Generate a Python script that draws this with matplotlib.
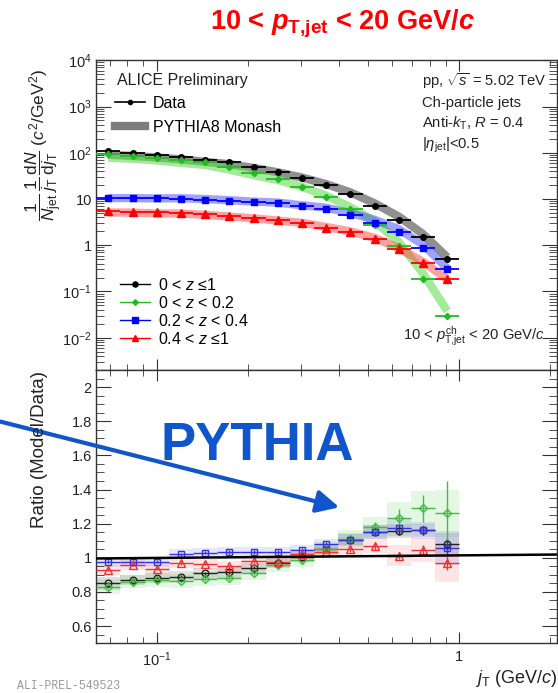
import numpy as np
import matplotlib
matplotlib.use('Agg')
import matplotlib.pyplot as plt
from matplotlib.lines import Line2D
from matplotlib.ticker import LogLocator, MultipleLocator, NullFormatter, FuncFormatter

plt.rcParams['font.family'] = ['Liberation Sans', 'DejaVu Sans']
plt.rcParams['mathtext.fontset'] = 'custom'
plt.rcParams['mathtext.rm'] = 'Liberation Sans'
plt.rcParams['mathtext.it'] = 'Liberation Sans:italic'
plt.rcParams['mathtext.bf'] = 'Liberation Sans:bold'
plt.rcParams['mathtext.bfit'] = 'Liberation Sans:italic:bold'

# jT bin edges (GeV/c)
edges = np.array([0.0631, 0.0759, 0.0912, 0.1096, 0.1318, 0.1585, 0.1905, 0.2291,
                  0.2754, 0.3311, 0.3981, 0.4786, 0.5754, 0.6918, 0.8318, 1.0])

labels = ['0 < $z$ \u22641', '0 < $z$ < 0.2', '0.2 < $z$ < 0.4', '0.4 < $z$ \u22641']

# distributions (data)
d_all = [107, 98, 90, 81, 70, 62, 50, 39, 29, 20, 12.6, 7.0, 3.6, 1.5, 0.51]
d_z02 = [95, 86, 79, 70, 62, 49, 36, 27, 18.6, 11.2, 6.0, 2.8, 0.95, 0.19, 0.030]
d_z04 = [10.7, 10.7, 10.5, 10.2, 9.7, 9.1, 8.5, 8.1, 7.0, 6.0, 4.5, 3.1, 1.9, 0.89, 0.30]
d_z1 = [5.5, 5.3, 5.2, 5.0, 4.7, 4.4, 3.9, 3.5, 3.0, 2.4, 1.9, 1.35, 0.85, 0.42, 0.19]

# ratio PYTHIA / data
r_all = [0.85, 0.87, 0.88, 0.89, 0.908, 0.914, 0.94, 0.97, 1.006, 1.05, 1.107, 1.15, 1.156, 1.16, 1.078]
r_z02 = [0.83, 0.86, 0.867, 0.865, 0.877, 0.883, 0.912, 0.955, 0.986, 1.054, 1.11, 1.18, 1.234, 1.29, 1.26]
r_z04 = [0.977, 0.977, 0.977, 1.02, 1.03, 1.035, 1.033, 1.033, 1.045, 1.08, 1.107, 1.15, 1.175, 1.16, 1.056]
r_z1 = [0.93, 0.96, 0.937, 0.97, 0.965, 0.95, 0.98, 0.975, 1.02, 1.035, 1.05, 1.068, 1.013, 1.045, 0.97]

# ratio stat / syst uncertainties
st_all = [0.01, 0.01, 0.01, 0.01, 0.01, 0.01, 0.01, 0.01, 0.01, 0.01, 0.012, 0.015, 0.02, 0.025, 0.04]
st_z02 = [0.015, 0.015, 0.015, 0.015, 0.015, 0.015, 0.015, 0.015, 0.015, 0.02, 0.025, 0.03, 0.05, 0.08, 0.19]
st_z04 = [0.01, 0.01, 0.01, 0.01, 0.01, 0.01, 0.01, 0.01, 0.01, 0.01, 0.012, 0.015, 0.02, 0.025, 0.04]
st_z1 = [0.01, 0.01, 0.01, 0.01, 0.01, 0.01, 0.01, 0.01, 0.012, 0.012, 0.015, 0.02, 0.02, 0.03, 0.04]
sy_all = [0.04, 0.03, 0.03, 0.03, 0.03, 0.03, 0.03, 0.03, 0.03, 0.03, 0.03, 0.04, 0.04, 0.04, 0.07]
sy_z02 = [0.045, 0.04, 0.04, 0.04, 0.04, 0.04, 0.04, 0.04, 0.04, 0.04, 0.05, 0.06, 0.09, 0.1, 0.14]
sy_z04 = [0.03, 0.03, 0.03, 0.03, 0.03, 0.03, 0.03, 0.03, 0.03, 0.03, 0.04, 0.04, 0.05, 0.05, 0.1]
sy_z1 = [0.03, 0.03, 0.03, 0.03, 0.03, 0.03, 0.03, 0.03, 0.03, 0.03, 0.04, 0.04, 0.06, 0.07, 0.11]

data = [d_all, d_z02, d_z04, d_z1]
ratios = [r_all, r_z02, r_z04, r_z1]
stats = [st_all, st_z02, st_z04, st_z1]
systs = [sy_all, sy_z02, sy_z04, sy_z1]
colors = ['black', '#22bb22', '#0000ff', '#ff0000']
band_colors = ['#555555', '#66dd55', '#4444ff', '#ff4444']
band_alpha = [0.65, 0.6, 0.5, 0.5]
markers = ['o', 'D', 's', '^']
msizes = [4.0, 3.2, 4.2, 5.2]
r_colors = ['#222222', '#44bb44', '#3333dd', '#ee3333']
box_colors = ['#333333', '#44cc44', '#5555ee', '#ff5555']

centers = np.sqrt(edges[:-1] * edges[1:])
xerr = [centers - edges[:-1], edges[1:] - centers]

fig = plt.figure(figsize=(5.58, 6.93), dpi=100)
ax = fig.add_axes([0.172, 0.466, 0.826, 0.447])
axr = fig.add_axes([0.172, 0.072, 0.826, 0.394])

# top panel
for i in range(4):
    model = np.array(data[i]) * np.array(ratios[i])
    ax.plot(centers, model, color=band_colors[i], lw=6, alpha=band_alpha[i],
            solid_capstyle='butt', zorder=2)
for i in range(4):
    ax.errorbar(centers, data[i], xerr=xerr, fmt=markers[i], color=colors[i],
                ms=msizes[i], elinewidth=1.3, capsize=0, zorder=3)

ax.set_xscale('log')
ax.set_yscale('log')
ax.set_xlim(0.063, 2.1)
ax.set_ylim(2e-3, 1e4)


def yfmt(v, pos):
    if abs(v - 1) < 1e-9:
        return '1'
    if abs(v - 10) < 1e-9:
        return '10'
    return '$10^{%d}$' % round(np.log10(v))


ax.yaxis.set_major_locator(LogLocator(base=10, numticks=20))
ax.yaxis.set_minor_locator(LogLocator(base=10, subs=np.arange(2, 10), numticks=20))
ax.yaxis.set_major_formatter(FuncFormatter(yfmt))
ax.yaxis.set_minor_formatter(NullFormatter())
ax.xaxis.set_major_formatter(NullFormatter())
ax.xaxis.set_minor_formatter(NullFormatter())

# ratio panel
for i in range(4):
    r = np.array(ratios[i])
    s = np.array(systs[i])
    axr.bar(edges[:-1], 2 * s, width=np.diff(edges), bottom=r - s, align='edge',
            color=box_colors[i], alpha=0.15, lw=0, zorder=1)
for i in range(4):
    axr.errorbar(centers, ratios[i], xerr=xerr, yerr=stats[i], fmt=markers[i],
                 color=r_colors[i], mfc='none', ms=msizes[i] + 0.8, mew=1.0,
                 elinewidth=1.0, capsize=0, zorder=3)
axr.plot([0, 1], [0.996, 1.019], color='black', lw=1.8,
         transform=axr.get_yaxis_transform(), zorder=4)

axr.set_xscale('log')
axr.set_xlim(0.063, 2.1)
axr.set_ylim(0.5, 2.1)
axr.yaxis.set_major_locator(MultipleLocator(0.2))
axr.yaxis.set_minor_locator(MultipleLocator(0.05))
axr.yaxis.set_major_formatter(FuncFormatter(lambda v, p: '%g' % round(v, 2)))


def xfmt(v, pos):
    if abs(v - 1) < 1e-9:
        return '1'
    return '$10^{%d}$' % round(np.log10(v))


axr.xaxis.set_major_formatter(FuncFormatter(xfmt))
axr.xaxis.set_minor_formatter(NullFormatter())

for a in (ax, axr):
    for sp in a.spines.values():
        sp.set_color('#333333')
        sp.set_linewidth(1.0)
    a.tick_params(which='both', direction='in', top=True, right=True,
                  colors='#333333', labelcolor='#222222', labelsize=10.5)
    a.tick_params(axis='y', which='major', length=11, pad=3)
    a.tick_params(axis='y', which='minor', length=5.5)
    a.tick_params(axis='x', which='major', length=8, pad=5)
    a.tick_params(axis='x', which='minor', length=4)

# texts in top panel
fig.text(117 / 558, 1 - 81 / 693, 'ALICE Preliminary', fontsize=11.5, va='center', color='#222222')
h_data = Line2D([], [], color='black', marker='o', ms=3, lw=1.2)
h_py = Line2D([], [], color='#666666', lw=6, alpha=0.85)
leg1 = fig.legend([h_data, h_py], ['Data', 'PYTHIA8 Monash'], loc='upper left',
                  bbox_to_anchor=(115 / 558, 1 - 96 / 693), frameon=False,
                  fontsize=11.5, handlelength=1.9, handletextpad=0.45,
                  labelspacing=0.55, borderpad=0, borderaxespad=0)

hs = [Line2D([], [], color=colors[i], marker=markers[i], ms=msizes[i] - 0.3, lw=1.0)
      for i in range(4)]
leg2 = fig.legend(hs, labels, loc='upper left', bbox_to_anchor=(120 / 558, 1 - 277 / 693),
                  frameon=False, fontsize=11.5, handlelength=1.9, handletextpad=0.45,
                  labelspacing=0.12, borderpad=0, borderaxespad=0)

info = ['pp, $\\sqrt{s}$ = 5.02 TeV', 'Ch-particle jets',
        'Anti-$k_{\\rm T}$, $R$ = 0.4', '|$\\eta_{\\rm jet}$|<0.5']
for k, t in enumerate(info):
    fig.text(422 / 558, 1 - (86 + 21 * k) / 693, t, fontsize=10.6, va='baseline', color='#222222')
fig.text(403 / 558, 1 - 340 / 693, '10 < $p_{\\rm T{,}jet}^{\\rm ch}$ < 20 GeV/$c$',
         fontsize=10.6, va='baseline', color='#222222')

# axis titles
fig.text(44 / 558, 1 - 145 / 693,
         '$\\dfrac{1}{N_{\\rm jet}}\\,\\dfrac{1}{j_{\\rm T}}\\,\\dfrac{{\\rm d}N}{{\\rm d}j_{\\rm T}}$ ($c^{2}$/GeV$^{2}$)',
         fontsize=12.5, rotation=90, ha='center', va='center', color='#222222')
fig.text(40 / 558, 1 - 449 / 693, 'Ratio (Model/Data)', fontsize=13.5, rotation=90,
         ha='center', va='center', color='#222222')
fig.text(557 / 558, 1 - 683 / 693, '$j_{\\rm T}$ (GeV/$c$)', fontsize=13,
         ha='right', va='baseline', color='#222222')

# slide annotations
fig.text(342 / 558, 1 - 30 / 693,
         '10 < $\\mathbfit{p}_{\\mathbf{T{,}jet}}$ < 20 GeV/$\\mathbfit{c}$',
         fontsize=19.5, fontweight='bold', color='#ff0000', ha='center', va='baseline')
fig.text(161 / 558, 1 - 460 / 693, 'PYTHIA', fontsize=38, fontweight='bold',
         color='#1155cc', ha='left', va='baseline')
fig.add_artist(matplotlib.patches.FancyArrowPatch(
    (-2 / 558, 1 - 421 / 693), (342 / 558, 1 - 508 / 693), transform=fig.transFigure,
    arrowstyle='-|>', mutation_scale=34, lw=3, color='#1155cc'))
fig.text(17 / 558, 1 / 693, 'ALI-PREL-549523', fontsize=8.3, family='Liberation Mono',
         color='#999999', va='bottom')

fig.savefig('out.png', dpi=100)
